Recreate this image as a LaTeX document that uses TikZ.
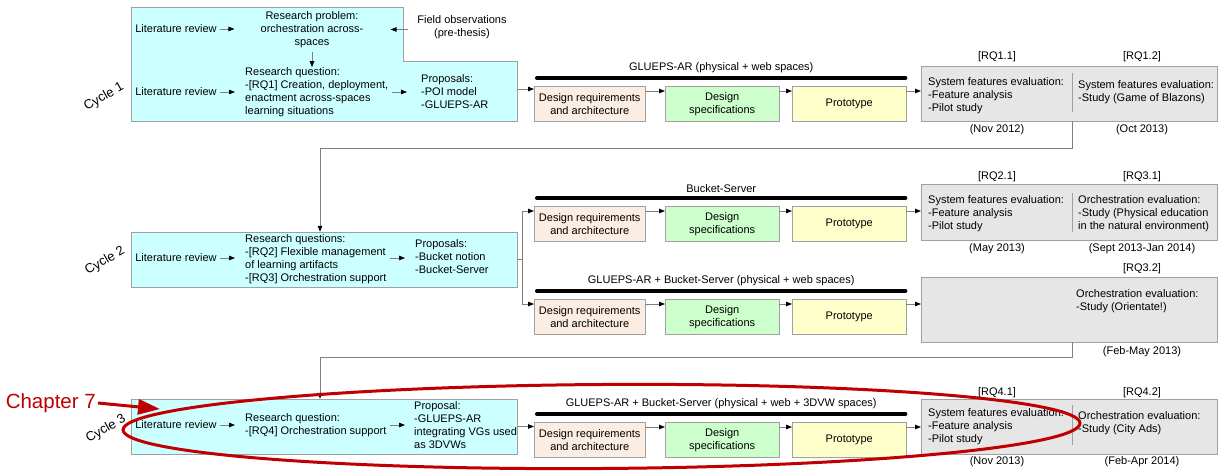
\documentclass[tikz,border=0pt]{standalone}
\usepackage{fontspec}
\setmainfont{Liberation Sans}
\usetikzlibrary{arrows.meta}

\definecolor{cycfill}{HTML}{CCFFFF}
\definecolor{reqfill}{HTML}{FCEDE3}
\definecolor{specfill}{HTML}{CCFFCC}
\definecolor{protofill}{HTML}{FFFFCC}
\definecolor{evalfill}{HTML}{E6E6E6}
\definecolor{edge}{HTML}{A0A0A0}
\definecolor{chapred}{HTML}{C00000}

\begin{document}
\begin{tikzpicture}[x=1pt, y=-1pt,
  every node/.style={font=\fontsize{11}{13}\selectfont},
  txt/.style={inner sep=0pt, align=left},
  ctxt/.style={inner sep=0pt, align=center},
  cycbox/.style={draw=edge, fill=cycfill, minimum width=386pt, minimum height=55pt, inner sep=0pt},
  stagebox/.style={draw=edge, minimum height=35pt, inner sep=0pt, align=center, anchor=north west},
  evalbox/.style={draw=edge, fill=evalfill, minimum width=296pt, inner sep=0pt, anchor=north west},
  flow/.style={draw=gray, line width=0.8pt, -{Triangle[length=6pt,width=4.5pt,black]}},
  bar/.style={line width=4pt, line cap=round},
  cyclabel/.style={font=\fontsize{13}{15}\selectfont, rotate=30, inner sep=0pt},
]
\fill[white] (0,0) rectangle (1218,473);
\useasboundingbox (0,0) rectangle (1218,473);

% cycle 1
\filldraw[draw=edge, fill=cycfill] (131,7) -- (403,7) -- (403,61) -- (517,61) -- (517,121) -- (131,121) -- cycle;
\coordinate (c1out) at (517,89);
\node[txt] (lit1a) at (176,29) {Literature review};
\node[ctxt] (prob1) at (312,29.5) {Research problem:\\orchestration across-\\spaces};
\node[ctxt] (field1) at (462,27) {Field observations\\(pre-thesis)};
\node[txt] (lit1b) at (176,92) {Literature review};
\node[txt, anchor=west] (rq1) at (245,92) {Research question:\\-[RQ1] Creation, deployment,\\enactment across-spaces\\learning situations};
\node[txt, anchor=west] (prop1) at (421,92) {Proposals:\\-POI model\\-GLUEPS-AR};
\node[cyclabel] (c1lab) at (104,97) {Cycle 1};
\draw[flow, shorten <=3pt, shorten >=26pt] (lit1a.east) -- (lit1a.east -| prob1.west);
\draw[flow, shorten <=9pt, shorten >=27pt] (field1.west |- prob1.east) -- (prob1.east);
\draw[flow, shorten <=4pt] (prob1.south) -- (prob1.south |- rq1.north);
\draw[flow, shorten <=3pt, shorten >=10pt] (lit1b.east) -- (lit1b.east -| rq1.west);
\draw[flow, shorten <=4pt, shorten >=14pt] (rq1.east) -- (rq1.east -| prop1.west);

% cycle 2
\node[cycbox] (cyc2) at (324,259.5) {};
\node[txt] (lit2) at (176,258) {Literature review};
\node[txt, anchor=west] (rq2) at (245,259) {Research questions:\\-[RQ2] Flexible management\\of learning artifacts\\-[RQ3] Orchestration support};
\node[txt, anchor=west] (prop2) at (415,257) {Proposals:\\-Bucket notion\\-Bucket-Server};
\node[cyclabel] (c2lab) at (105,261) {Cycle 2};
\draw[flow, shorten <=3pt, shorten >=10pt] (lit2.east) -- (lit2.east -| rq2.west);
\draw[flow, shorten <=3pt, shorten >=10pt] (rq2.east |- lit2.east) -- (lit2.east -| prop2.west);

% cycle 3
\node[cycbox] (cyc3) at (324,426.5) {};
\node[txt] (lit3) at (176,425) {Literature review};
\node[txt, anchor=west] (rq3) at (245,425) {Research question:\\-[RQ4] Orchestration support};
\node[txt, anchor=west] (prop3) at (414,425.5) {Proposal:\\-GLUEPS-AR\\integrating VGs used\\as 3DVWs};
\node[cyclabel] (c3lab) at (106,429) {Cycle 3};
\draw[flow, shorten <=3pt, shorten >=10pt] (lit3.east) -- (lit3.east -| rq3.west);
\draw[flow, shorten <=3pt, shorten >=9pt] (rq3.east) -- (rq3.east -| prop3.west);

% evaluations
\node[evalbox, minimum height=55pt] (eval1) at (921,66) {};
\node[evalbox, minimum height=56pt] (eval2) at (921,184) {};
\node[evalbox, minimum height=65pt] (eval3) at (921,277) {};
\node[evalbox, minimum height=55pt] (eval4) at (921,399) {};
\coordinate (divx) at (1072,0);
\draw[edge] (1072,73) -- (1072,112);
\draw[edge] (1072,193) -- (1072,232);
\draw[edge] (1072,405) -- (1072,445);

\node[txt, anchor=west] (ev1a) at (928,96) {System features evaluation:\\-Feature analysis\\-Pilot study};
\node[txt, anchor=west] (ev1b) at (1078,92.5) {System features evaluation:\\-Study (Game of Blazons)};
\node (rq11) at (997,57) {[RQ1.1]};
\node (rq12) at (1142,57) {[RQ1.2]};
\node (d11) at (997,130) {(Nov 2012)};
\node (d12) at (1142,130) {(Oct 2013)};

\node[txt, anchor=west] (ev2a) at (928,214) {System features evaluation:\\-Feature analysis\\-Pilot study};
\node[txt, anchor=west] (ev2b) at (1078,213.5) {Orchestration evaluation:\\-Study (Physical education\\in the natural environment)};
\node (rq21) at (997,177) {[RQ2.1]};
\node (rq31) at (1142,177) {[RQ3.1]};
\node (d21) at (997,249) {(May 2013)};
\node (d31) at (1142,249) {(Sept 2013-Jan 2014)};

\node[txt, anchor=west] (ev3b) at (1076,301) {Orchestration evaluation:\\-Study (Orientate!)};
\node (rq32) at (1142,269) {[RQ3.2]};
\node (d32) at (1142,352) {(Feb-May 2013)};

\node[txt, anchor=west] (ev4a) at (928,426.5) {System features evaluation:\\-Feature analysis\\-Pilot study};
\node[txt, anchor=west] (ev4b) at (1078,423.5) {Orchestration evaluation:\\-Study (City Ads)};
\node (rq41) at (997,393) {[RQ4.1]};
\node (rq42) at (1142,393) {[RQ4.2]};
\node (d41) at (997,462) {(Nov 2013)};
\node (d42) at (1142,462) {(Feb-Apr 2014)};

% development stages
\foreach \r/\ty/\lbl in {1/86/GLUEPS-AR (physical + web spaces),
    2/206/Bucket-Server,
    3/299/GLUEPS-AR + Bucket-Server (physical + web spaces),
    4/422/GLUEPS-AR + Bucket-Server (physical + web + 3DVW spaces)}{
  \node[stagebox, fill=reqfill, minimum width=111pt] (req\r) at (534,\ty) {Design requirements\\and architecture};
  \node[stagebox, fill=specfill, minimum width=114pt] (spec\r) at (665,\ty) {Design\\specifications};
  \node[stagebox, fill=protofill, minimum width=114pt] (proto\r) at (792,\ty) {Prototype};
  \draw[bar] ([xshift=3pt,yshift=8pt]req\r.north west) -- ([xshift=-1pt,yshift=8pt]proto\r.north east)
    node[midway, above=3pt, inner sep=0pt] (bl\r) {\lbl};
  \draw[flow] ([yshift=-5pt]req\r.north east) coordinate (a\r) -- (a\r -| spec\r.west);
  \draw[flow] ([yshift=-5pt]spec\r.north east) coordinate (b\r) -- (b\r -| proto\r.west);
  \draw[flow] ([yshift=-5pt]proto\r.north east) coordinate (e\r) -- (e\r -| eval\r.west);
}

% links between cycles
\draw[flow] (c1out) -- (c1out -| req1.west);
\coordinate (fork) at (522,259.5);
\draw[draw=gray, line width=0.8pt] (cyc2.east) -- (fork);
\draw[flow] (fork) |- ([yshift=-5pt]req2.north west);
\draw[flow] (fork) |- ([yshift=-5pt]req3.north west);
\draw[flow] (cyc3.east) -- (cyc3.east -| req4.west);

\coordinate (turn1) at (320,148);
\coordinate (turn2) at (320,357);
\draw[flow] (divx |- eval1.south) |- (turn1) -- (turn1 |- cyc2.north);
\draw[flow] (divx |- eval3.south) |- (turn2) -- (turn2 |- cyc3.north);

% chapter mark
\draw[chapred, line width=3pt] (601.5,426.5) circle [x radius=478.5, y radius=42, rotate=0.4];
\node[text=chapred, font=\fontsize{20.5}{24}\selectfont, anchor=east, inner sep=0pt] (chap) at (96,403) {Chapter 7};
\coordinate (chaptip) at (160,409);
\draw[chapred, line width=3pt, -{Triangle[length=22pt,width=15pt]}] ([xshift=2pt]chap.east) -- (chaptip);
\end{tikzpicture}
\end{document}
